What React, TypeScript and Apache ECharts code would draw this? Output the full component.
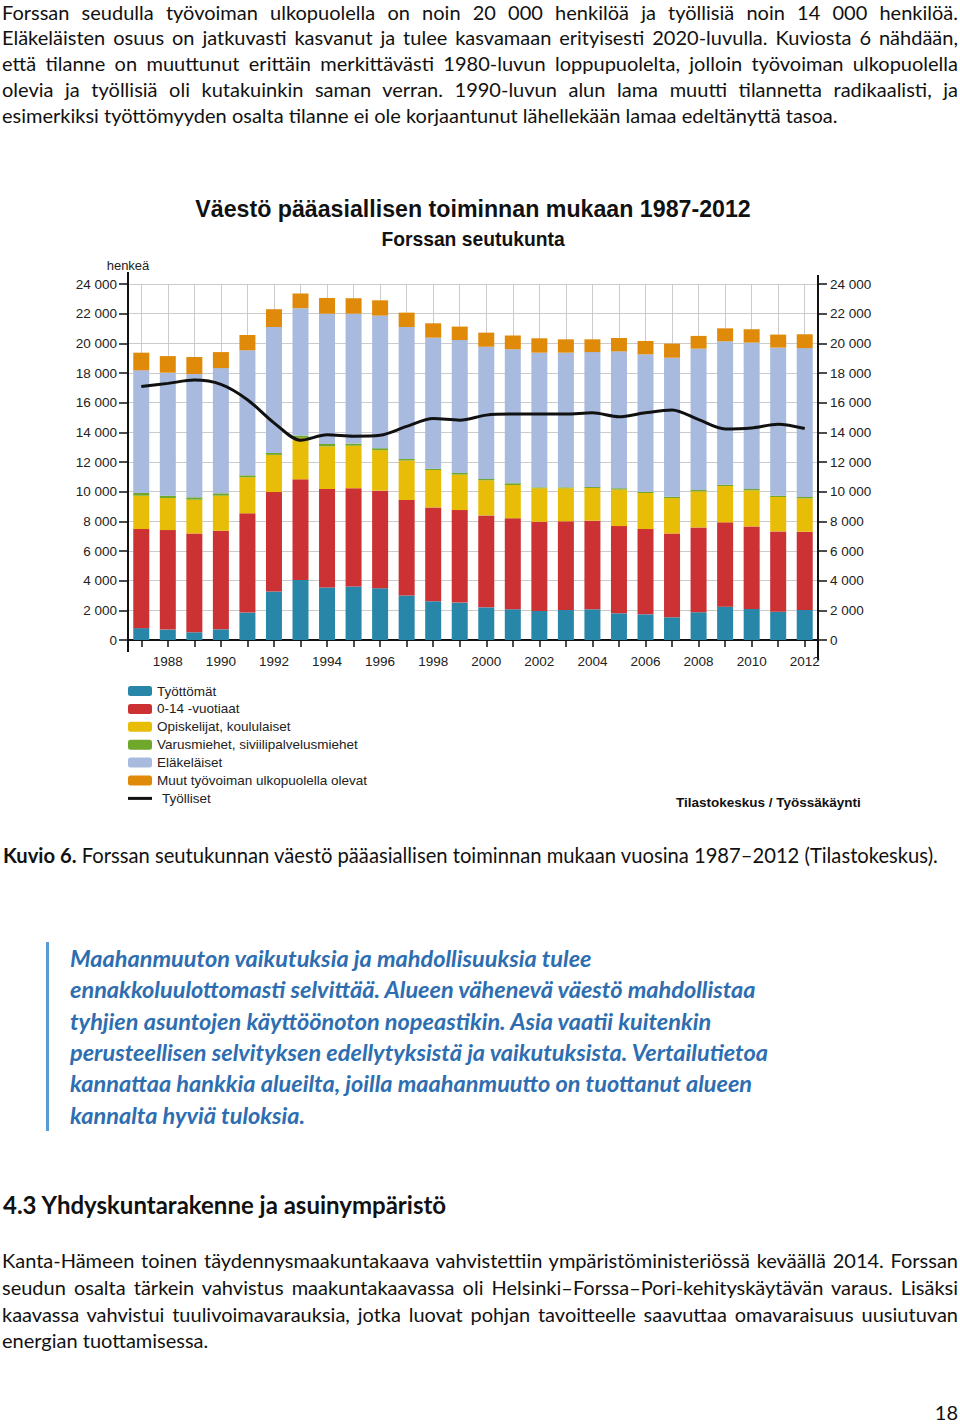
import React, { useEffect, useRef } from "react";
import * as echarts from "echarts";

const years = ["1987","1988","1989","1990","1991","1992","1993","1994","1995","1996","1997","1998","1999","2000","2001","2002","2003","2004","2005","2006","2007","2008","2009","2010","2011","2012"];
const tyottomat = [800,700,520,720,1850,3270,4050,3540,3600,3490,3000,2610,2520,2200,2070,1960,2030,2070,1800,1730,1530,1870,2250,2090,1910,2030];
const lapset = [6680,6710,6660,6640,6690,6710,6780,6640,6630,6580,6440,6330,6240,6200,6130,6010,5970,5970,5880,5750,5650,5720,5680,5570,5410,5270];
const opiskelijat = [2250,2160,2280,2370,2430,2500,2800,2880,2870,2730,2660,2520,2390,2370,2250,2260,2230,2210,2460,2430,2390,2430,2450,2430,2320,2250];
const varusmiehet = [180,160,160,160,130,130,150,160,140,130,100,90,110,90,110,60,60,70,90,70,90,90,90,90,90,90];
const elakelaiset = [8270,8290,8310,8440,8430,8490,8590,8780,8760,8940,8900,8830,8960,8910,9040,9080,9080,9090,9230,9280,9370,9530,9670,9870,9980,10040];
const muut = [1190,1120,1150,1080,1030,1200,990,1060,1040,1030,970,970,910,950,920,970,900,860,900,900,950,860,870,900,880,930];
const tyolliset = [17090,17300,17520,17230,16200,14640,13470,13830,13740,13800,14400,14930,14820,15160,15230,15230,15230,15320,15050,15320,15500,14860,14230,14300,14550,14260];
const yTicks = ["0","2 000","4 000","6 000","8 000","10 000","12 000","14 000","16 000","18 000","20 000","22 000","24 000"];

const para1 = [
  "Forssan seudulla työvoiman ulkopuolella on noin 20 000 henkilöä ja työllisiä noin 14 000 henkilöä.",
  "Eläkeläisten osuus on jatkuvasti kasvanut ja tulee kasvamaan erityisesti 2020-luvulla. Kuviosta 6 nähdään,",
  "että tilanne on muuttunut erittäin merkittävästi 1980-luvun loppupuolelta, jolloin työvoiman ulkopuolella",
  "olevia ja työllisiä oli kutakuinkin saman verran. 1990-luvun alun lama muutti tilannetta radikaalisti, ja",
  "esimerkiksi työttömyyden osalta tilanne ei ole korjaantunut lähellekään lamaa edeltänyttä tasoa.",
];
const quote = [
  "Maahanmuuton vaikutuksia ja mahdollisuuksia tulee",
  "ennakkoluulottomasti selvittää. Alueen vähenevä väestö mahdollistaa",
  "tyhjien asuntojen käyttöönoton nopeastikin. Asia vaatii kuitenkin",
  "perusteellisen selvityksen edellytyksistä ja vaikutuksista. Vertailutietoa",
  "kannattaa hankkia alueilta, joilla maahanmuutto on tuottanut alueen",
  "kannalta hyviä tuloksia.",
];
const para2 = [
  "Kanta-Hämeen toinen täydennysmaakuntakaava vahvistettiin ympäristöministeriössä keväällä 2014. Forssan",
  "seudun osalta tärkein vahvistus maakuntakaavassa oli Helsinki–Forssa–Pori-kehityskäytävän varaus. Lisäksi",
  "kaavassa vahvistui tuulivoimavarauksia, jotka luovat pohjan tavoitteelle saavuttaa omavaraisuus uusiutuvan",
  "energian tuottamisessa.",
];

const AX = "Liberation Sans, Arial, sans-serif";

function Chart() {
  const ref = useRef<HTMLDivElement>(null);
  useEffect(() => {
    if (!ref.current) return;
    const chart = echarts.init(ref.current, null, { renderer: "svg" });
    const yLabel = (v: number) => yTicks[Math.round(v / 2000)] ?? String(v);
    const barBase = (name: string, data: number[], color: string) => ({
      name, type: "bar", stack: "s", data, barWidth: 16,
      itemStyle: { color }, z: 2,
    });
    const option: any = {
      animation: false,
      textStyle: { fontFamily: AX },
      grid: { left: 128, top: 104, width: 690, height: 356, containLabel: false },
      graphic: [
        { type: "text", x: 473, y: 29, style: { text: "Väestö pääasiallisen toiminnan mukaan 1987-2012", font: "bold 23.2px " + AX, fill: "#111", align: "center", verticalAlign: "middle" } },
        { type: "text", x: 473, y: 59, style: { text: "Forssan seutukunta", font: "bold 19.3px " + AX, fill: "#111", align: "center", verticalAlign: "middle" } },
        { type: "text", x: 676, y: 622, style: { text: "Tilastokeskus / Työssäkäynti", font: "bold 13.5px " + AX, fill: "#111", align: "left", verticalAlign: "middle" } },
        { type: "line", shape: { x1: 128, y1: 92, x2: 128, y2: 472 }, style: { stroke: "#111", lineWidth: 2 } },
        { type: "line", shape: { x1: 818, y1: 95, x2: 818, y2: 480 }, style: { stroke: "#111", lineWidth: 2 } },
      ],
      legend: {
        orient: "vertical", left: 128, top: 504, padding: 0,
        itemWidth: 24, itemHeight: 10, itemGap: 3.9,
        textStyle: { fontSize: 13.5, color: "#222", fontFamily: AX },
        data: [
          "Työttömät", "0-14 -vuotiaat", "Opiskelijat, koululaiset", "Varusmiehet, siviilipalvelusmiehet", "Eläkeläiset", "Muut työvoiman ulkopuolella olevat",
          { name: "Työlliset", icon: "path://M0 0H24V3H0Z", itemStyle: { color: "#111" }, textStyle: { padding: [0, 0, 0, 5] } },
        ],
      },
      xAxis: {
        type: "category", data: years,
        axisLine: { show: true, lineStyle: { color: "#111", width: 2 } },
        axisTick: { show: true, alignWithLabel: true, interval: 0, length: 7, lineStyle: { color: "#111", width: 1.5 } },
        axisLabel: { interval: (i: number) => i % 2 === 1, fontSize: 13.5, color: "#222", margin: 14, fontFamily: AX },
        splitLine: { show: false },
      },
      yAxis: [
        {
          type: "value", min: 0, max: 24000, interval: 2000, position: "left",
          name: "henkeä", nameLocation: "end", nameGap: 12,
          nameTextStyle: { fontSize: 13, color: "#222", align: "center", fontFamily: AX },
          axisLine: { show: true, lineStyle: { color: "#111", width: 2 } },
          axisTick: { show: true, length: 9, lineStyle: { color: "#111", width: 1.5 } },
          axisLabel: { formatter: yLabel, fontSize: 13.5, color: "#222", margin: 11, fontFamily: AX },
          splitLine: { show: true, lineStyle: { color: "#cbcbcb", width: 1 } },
        },
        {
          type: "value", min: 0, max: 24000, interval: 2000, position: "right",
          axisLine: { show: true, lineStyle: { color: "#111", width: 2 } },
          axisTick: { show: true, length: 9, lineStyle: { color: "#111", width: 1.5 } },
          axisLabel: { formatter: yLabel, fontSize: 13.5, color: "#222", margin: 12, fontFamily: AX },
          splitLine: { show: false },
        },
      ],
      series: [
        {
          ...barBase("Työttömät", tyottomat, "#2886a8"),
          markLine: {
            silent: true, symbol: ["none", "none"], z: 1,
            label: { show: false },
            lineStyle: { color: "#cbcbcb", type: "solid", width: 1 },
            data: years.map((y) => ({ xAxis: y })),
          },
        },
        barBase("0-14 -vuotiaat", lapset, "#cc3234"),
        barBase("Opiskelijat, koululaiset", opiskelijat, "#e8bd08"),
        barBase("Varusmiehet, siviilipalvelusmiehet", varusmiehet, "#6fa82a"),
        barBase("Eläkeläiset", elakelaiset, "#a9badf"),
        barBase("Muut työvoiman ulkopuolella olevat", muut, "#e08a0a"),
        {
          name: "Työlliset", type: "line", data: tyolliset, symbol: "none", smooth: 0.3, z: 5,
          lineStyle: { color: "#111", width: 3 }, itemStyle: { color: "#111" },
        },
      ],
    };
    chart.setOption(option);
    return () => chart.dispose();
  }, []);
  return <div ref={ref} style={{ position: "absolute", left: 0, top: 180, width: 960, height: 650 }} />;
}

const bodyFont = "Lato, 'Open Sans', sans-serif";

type LinesProps = { lines: string[]; centers: number[]; fontSize: number; left?: number; width?: number; justify?: boolean; style?: any };
function Lines({ lines, centers, fontSize, left = 2, width = 956, justify = false, style = {} }: LinesProps) {
  const lh = 20;
  return (
    <>
      {lines.map((l, i) => {
        const last = i === lines.length - 1;
        const j = justify && !last;
        return (
          <div key={i} style={{
            position: "absolute", left, top: centers[i] - lh / 2, width, height: lh, lineHeight: lh + "px",
            fontFamily: bodyFont, fontSize, color: "#111", whiteSpace: "nowrap",
            textAlign: j ? "justify" : "left", textAlignLast: j ? "justify" : "left", ...style,
          } as any}>{l}</div>
        );
      })}
    </>
  );
}

export default function App() {
  return (
    <div style={{ position: "absolute", left: 0, top: 0, width: 960, height: 1425, background: "#fff", overflow: "hidden" }}>
      <Lines lines={para1} centers={[12, 37, 63, 89, 115]} fontSize={20} justify />
      <Chart />
      <div style={{ position: "absolute", left: 3, top: 845, height: 20, lineHeight: "20px", fontFamily: bodyFont, fontSize: 20.2, color: "#111", whiteSpace: "nowrap" }}>
        <b>Kuvio 6.</b> Forssan seutukunnan väestö pääasiallisen toiminnan mukaan vuosina 1987–2012 (Tilastokeskus).
      </div>
      <div style={{ position: "absolute", left: 46, top: 942, width: 3, height: 189, background: "#5b9bd5" }} />
      <Lines lines={quote} centers={[958, 989, 1021, 1052, 1083, 1115]} fontSize={23.5} left={70} width={800}
        style={{ fontWeight: 700, fontStyle: "italic", color: "#2e6eb0" }} />
      <Lines lines={["4.3 Yhdyskuntarakenne ja asuinympäristö"]} centers={[1205]} fontSize={24} left={3} style={{ fontWeight: 700 }} />
      <Lines lines={para2} centers={[1260, 1287, 1314, 1340]} fontSize={20} justify />
      <div style={{ position: "absolute", right: 2, top: 1402, height: 20, lineHeight: "20px", fontFamily: bodyFont, fontSize: 20, color: "#111" }}>18</div>
    </div>
  );
}
